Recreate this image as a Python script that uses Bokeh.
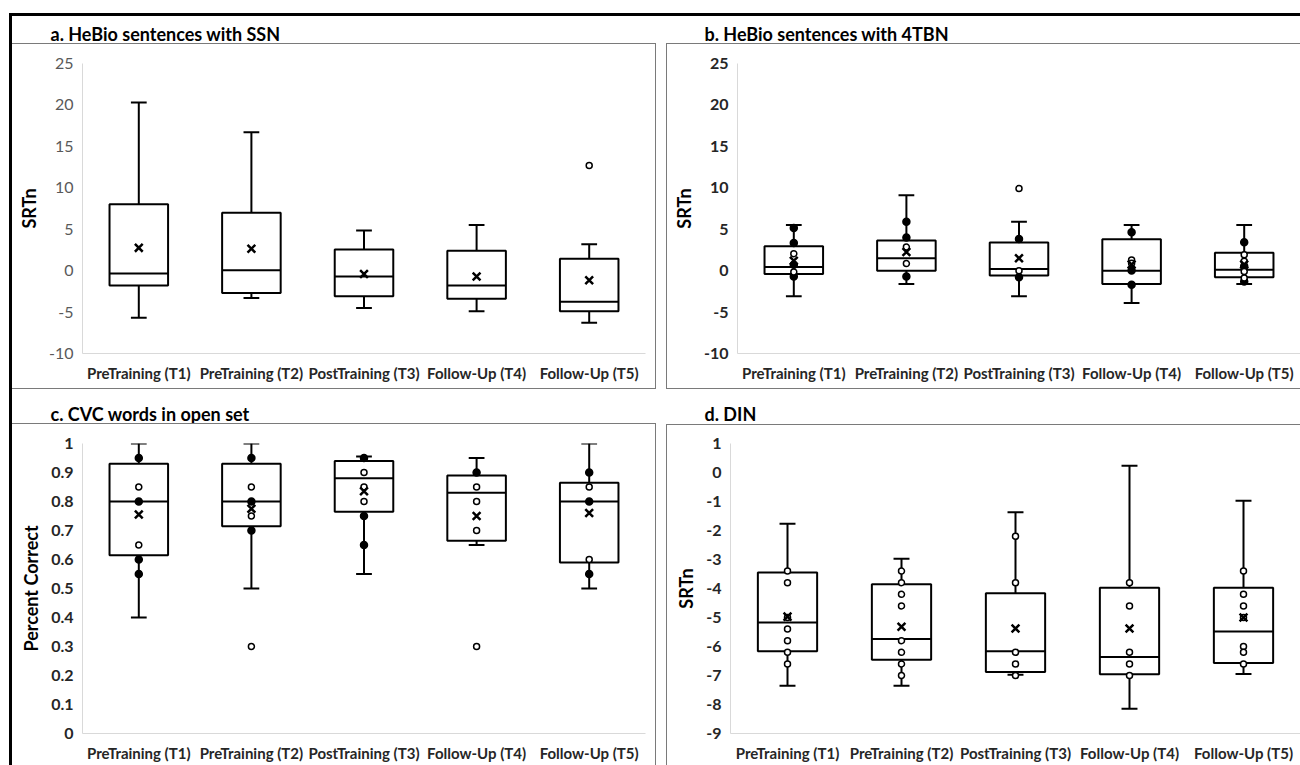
from bokeh.plotting import figure
from bokeh.models import FactorRange, Range1d, FixedTicker, Spacer, ColumnDataSource, Label
from bokeh.transform import dodge
from bokeh.layouts import row, column
from bokeh.embed import file_html
from bokeh.resources import INLINE

cats = ["PreTraining (T1)", "PreTraining (T2)", "PostTraining (T3)", "Follow-Up (T4)", "Follow-Up (T5)"]

# ---- panel a: HeBio sentences with SSN ----
a_wlo = [-5.7, -3.3, -4.5, -4.9, -6.3]
a_q1 = [-1.8, -2.7, -3.1, -3.4, -4.9]
a_med = [-0.35, 0.05, -0.7, -1.8, -3.75]
a_q3 = [8.0, 7.0, 2.55, 2.4, 1.45]
a_whi = [20.3, 16.7, 4.85, 5.5, 3.2]
a_mean = [2.75, 2.65, -0.4, -0.7, -1.15]
a_open = [[], [], [], [], [12.7]]
a_filled = [[], [], [], [], []]

# ---- panel b: HeBio sentences with 4TBN ----
b_wlo = [-3.1, -1.6, -3.1, -3.9, -1.6]
b_q1 = [-0.4, 0.0, -0.6, -1.6, -0.8]
b_med = [0.45, 1.5, 0.2, 0.0, 0.1]
b_q3 = [2.95, 3.65, 3.4, 3.8, 2.15]
b_whi = [5.5, 9.1, 5.9, 5.5, 5.5]
b_mean = [1.2, 2.25, 1.5, 0.75, 0.75]
b_open = [[2.05, -0.15], [2.85, 0.85], [0.0, 9.9], [1.28, 0.88], [1.93, 1.12, -0.09, -0.89]]
b_filled = [[5.15, 3.35, 0.7, -0.7], [5.9, 4.0, -0.7], [3.82, -0.81], [4.63, 0.03, -1.7], [3.42, 0.52, -1.3]]

# ---- panel c: CVC words in open set ----
c_wlo = [0.40, 0.50, 0.55, 0.65, 0.50]
c_q1 = [0.615, 0.715, 0.765, 0.665, 0.59]
c_med = [0.80, 0.80, 0.88, 0.83, 0.80]
c_q3 = [0.93, 0.93, 0.94, 0.89, 0.865]
c_whi = [1.0, 1.0, 0.955, 0.95, 1.0]
c_mean = [0.755, 0.775, 0.835, 0.75, 0.76]
c_open = [[0.85, 0.65], [0.85, 0.75, 0.3], [0.9, 0.85, 0.8], [0.85, 0.8, 0.7, 0.3], [0.85, 0.6]]
c_filled = [[0.95, 0.8, 0.6, 0.55], [0.95, 0.8, 0.7], [0.95, 0.75, 0.65], [0.9], [0.9, 0.8, 0.55]]

# ---- panel d: DIN ----
d_wlo = [-7.35, -7.35, -6.97, -8.15, -6.95]
d_q1 = [-6.16, -6.46, -6.88, -6.96, -6.57]
d_med = [-5.17, -5.74, -6.16, -6.36, -5.48]
d_q3 = [-3.45, -3.85, -4.16, -3.97, -3.97]
d_whi = [-1.77, -2.97, -1.37, 0.23, -0.97]
d_mean = [-4.97, -5.32, -5.38, -5.38, -5.0]
d_open = [[-3.4, -3.8, -5.0, -5.4, -5.8, -6.2, -6.6],
          [-3.4, -3.8, -4.2, -4.6, -5.8, -6.2, -6.6, -7.0],
          [-2.2, -3.8, -6.2, -6.6, -7.0],
          [-3.8, -4.6, -6.2, -6.6, -7.0],
          [-3.4, -4.2, -4.6, -5.0, -6.0, -6.2, -6.6]]
d_filled = [[], [], [], [], []]

srt_ticks = [-10, -5, 0, 5, 10, 15, 20, 25]
srt_labels = ["-10", "-5", "0", "5", "10", "15", "20", "25"]
pc_ticks = [0, 0.1, 0.2, 0.3, 0.4, 0.5, 0.6, 0.7, 0.8, 0.9, 1]
pc_labels = ["0", "0.1", "0.2", "0.3", "0.4", "0.5", "0.6", "0.7", "0.8", "0.9", "1"]
din_ticks = [-9, -8, -7, -6, -5, -4, -3, -2, -1, 0, 1]
din_labels = ["-9", "-8", "-7", "-6", "-5", "-4", "-3", "-2", "-1", "0", "1"]

titles = ["a. HeBio sentences with SSN", "b. HeBio sentences with 4TBN",
          "c. CVC words in open set", "d. DIN"]

FONT = "Lato"
GRAY = "#7a7a7a"


def flat(lists):
    xs, ys = [], []
    for c, vals in zip(cats, lists):
        for v in vals:
            xs.append(c)
            ys.append(v)
    return xs, ys


def title_fig(text, width, height, ypos):
    t = figure(x_range=Range1d(0, width), y_range=Range1d(0, height), width=width, height=height,
               output_backend="svg", toolbar_location=None, min_border=0,
               x_axis_location=None, y_axis_location=None)
    t.outline_line_color = None
    t.grid.visible = False
    t.add_layout(Label(x=38, y=ypos, text=text, text_font=FONT, text_font_size="18px",
                       text_font_style="bold", text_color="black", text_baseline="middle"))
    return t


def panel(ylabel, yr, ticks, labels, wlo, q1, med, q3, whi, mean, opn, fil,
          width, height, borders, tick_bold):
    p = figure(x_range=FactorRange(*cats, range_padding=0), y_range=Range1d(yr[0], yr[1]),
               width=width, height=height, output_backend="svg", toolbar_location=None,
               min_border_left=borders[0], min_border_right=borders[1],
               min_border_top=borders[2], min_border_bottom=borders[3])
    p.outline_line_color = None
    p.grid.visible = False

    ax = p.yaxis[0]
    ax.ticker = FixedTicker(ticks=ticks)
    ax.major_label_overrides = {t: l for t, l in zip(ticks, labels)}
    ax.axis_line_color = "#d9d9d9"
    ax.major_tick_line_color = None
    ax.minor_tick_line_color = None
    ax.major_tick_out = 0
    ax.major_tick_in = 0
    ax.minor_tick_out = 0
    ax.major_label_standoff = 9
    ax.major_label_text_font = FONT
    ax.major_label_text_font_size = "16px"
    ax.major_label_text_font_style = "bold" if tick_bold else "normal"
    ax.major_label_text_color = "#262626" if tick_bold else "#595959"
    ax.axis_label = ylabel
    ax.axis_label_text_font = FONT
    ax.axis_label_text_font_size = "18px"
    ax.axis_label_text_font_style = "bold"
    ax.axis_label_text_color = "black"
    ax.axis_label_standoff = 6

    xa = p.xaxis[0]
    xa.axis_line_color = "#d9d9d9"
    xa.major_tick_line_color = None
    xa.major_tick_out = 0
    xa.major_tick_in = 0
    xa.major_label_standoff = 10
    xa.major_label_text_font = FONT
    xa.major_label_text_font_size = "15px"
    xa.major_label_text_font_style = "bold"
    xa.major_label_text_color = "#262626"

    src = ColumnDataSource(dict(cat=cats, wlo=wlo, q1=q1, med=med, q3=q3, whi=whi, mean=mean))
    xr = p.x_range
    p.segment(x0="cat", x1="cat", y0="q3", y1="whi", source=src, line_color="black", line_width=2)
    p.segment(x0="cat", x1="cat", y0="wlo", y1="q1", source=src, line_color="black", line_width=2)
    p.vbar(x="cat", top="q3", bottom="q1", width=0.52, source=src,
           fill_color="white", line_color="black", line_width=2)
    p.segment(x0=dodge("cat", -0.26, range=xr), x1=dodge("cat", 0.26, range=xr), y0="med", y1="med",
              source=src, line_color="black", line_width=2)
    p.segment(x0=dodge("cat", -0.07, range=xr), x1=dodge("cat", 0.07, range=xr), y0="whi", y1="whi",
              source=src, line_color="black", line_width=2)
    p.segment(x0=dodge("cat", -0.07, range=xr), x1=dodge("cat", 0.07, range=xr), y0="wlo", y1="wlo",
              source=src, line_color="black", line_width=2)

    fx, fy = flat(fil)
    if fx:
        p.scatter(x=fx, y=fy, marker="circle", size=7, fill_color="black", line_color="black", line_width=1.5)
    ox, oy = flat(opn)
    if ox:
        p.scatter(x=ox, y=oy, marker="circle", size=6, fill_color="white", line_color="black", line_width=1.5)
    p.scatter(x="cat", y="mean", source=src, marker="x", size=11, line_color="black", line_width=2.5)
    return p


def hbar(w, color):
    return Spacer(width=w, height=1, styles={"background-color": color})


def vbar_(h, color):
    return Spacer(width=1, height=h, styles={"background-color": color})


pa = panel("SRTn", (-10, 25), srt_ticks, srt_labels,
           a_wlo, a_q1, a_med, a_q3, a_whi, a_mean, a_open, a_filled,
           643, 344, (70, 10, 19, 35), False)
pb = panel("SRTn", (-10, 25), srt_ticks, srt_labels,
           b_wlo, b_q1, b_med, b_q3, b_whi, b_mean, b_open, b_filled,
           633, 344, (70, 0, 19, 35), True)
pc = panel("Percent Correct", (0, 1), pc_ticks, pc_labels,
           c_wlo, c_q1, c_med, c_q3, c_whi, c_mean, c_open, c_filled,
           643, 341, (70, 10, 19, 32), True)
pd_ = panel("SRTn", (-9, 1), din_ticks, din_labels,
            d_wlo, d_q1, d_med, d_q3, d_whi, d_mean, d_open, d_filled,
            633, 340, (63, 0, 18, 32), True)

col_a = column(title_fig(titles[0], 644, 27, 10), hbar(644, GRAY),
               row(pa, vbar_(344, GRAY)), hbar(644, GRAY))
col_b = column(title_fig(titles[1], 634, 27, 10), hbar(634, GRAY),
               row(vbar_(344, GRAY), pb), hbar(634, GRAY))
col_c = column(title_fig(titles[2], 644, 34, 10), hbar(644, GRAY),
               row(pc, vbar_(341, GRAY)))
col_d = column(title_fig(titles[3], 634, 35, 11), hbar(634, GRAY),
               row(vbar_(340, GRAY), pd_))

black = {"background-color": "black"}
layout = row(
    Spacer(width=9, height=765),
    column(Spacer(width=3, height=13), Spacer(width=3, height=752, styles=black)),
    column(Spacer(width=1288, height=13), Spacer(width=1288, height=3, styles=black),
           row(col_a, Spacer(width=10, height=373), col_b),
           row(col_c, Spacer(width=10, height=376), col_d)),
)

open("out.html", "w").write(file_html(layout, INLINE))
